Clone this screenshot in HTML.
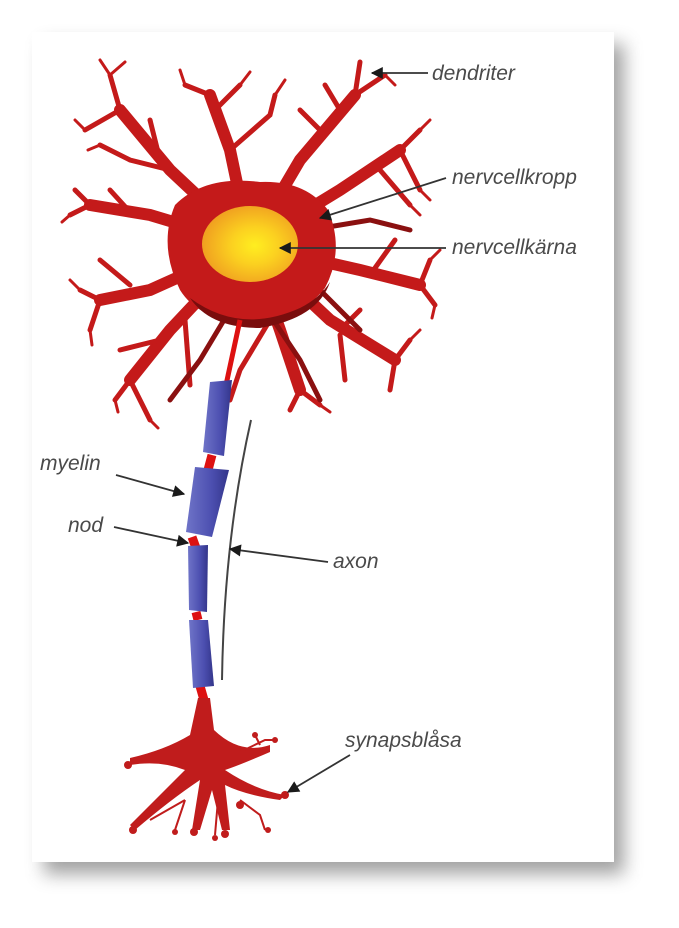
<!DOCTYPE html>
<html><head><meta charset="utf-8"><style>
html,body{margin:0;padding:0;background:#fff;}
svg{display:block}
text{font-family:"Liberation Sans",sans-serif;font-style:italic;fill:#4a4a4a;font-size:21px}
</style></head><body>
<svg width="679" height="928" viewBox="0 0 679 928" xmlns="http://www.w3.org/2000/svg">
<defs>
<filter id="sh" x="-10%" y="-10%" width="125%" height="125%"><feGaussianBlur stdDeviation="9"/></filter>
<radialGradient id="nuc" cx="0.55" cy="0.52" r="0.55"><stop offset="0" stop-color="#ffee20"/><stop offset="0.45" stop-color="#fbd020"/><stop offset="1" stop-color="#f0a020"/></radialGradient>
<linearGradient id="my" x1="0" x2="1"><stop offset="0" stop-color="#6f74c8"/><stop offset="0.6" stop-color="#4c4fb0"/><stop offset="1" stop-color="#33358a"/></linearGradient>
<marker id="ar" viewBox="0 0 10 10" refX="9" refY="5" markerWidth="16" markerHeight="12" orient="auto" markerUnits="userSpaceOnUse"><path d="M0,0 L10,5 L0,10 Z" fill="#1a1a1a"/></marker>
</defs>
<rect x="44" y="44" width="580" height="830" fill="#555" opacity="0.55" filter="url(#sh)"/>
<rect x="32" y="32" width="582" height="830" fill="#fff"/>

<!-- dendrites -->
<g stroke="#c41a1a" stroke-linecap="round" fill="none">
<g stroke-width="12">
<path d="M250,245 L170,170 L120,110"/><path d="M250,245 L230,150 L210,95"/>
<path d="M250,245 L300,160 L355,95"/><path d="M250,245 L340,190 L400,150"/>
<path d="M250,245 L360,270 L420,285"/><path d="M250,245 L330,320 L395,360"/>
<path d="M250,245 L150,215 L90,205"/><path d="M250,245 L150,290 L100,300"/>
<path d="M250,245 L170,330 L130,380"/><path d="M250,245 L280,330 L300,390"/>
</g>
<g stroke-width="5">
<path d="M120,110 L110,75"/><path d="M120,110 L85,130"/><path d="M170,170 L130,160 L100,145"/><path d="M160,160 L150,120"/>
<path d="M210,95 L185,85"/><path d="M215,110 L240,85"/><path d="M230,150 L270,115 L275,95"/>
<path d="M355,95 L360,62"/><path d="M355,95 L385,75"/><path d="M320,130 L300,110"/><path d="M340,110 L325,85"/>
<path d="M400,150 L420,130"/><path d="M400,150 L420,190"/><path d="M380,170 L410,205"/>
<path d="M420,285 L430,260"/><path d="M420,285 L435,305"/><path d="M370,275 L395,240"/>
<path d="M395,360 L410,340"/><path d="M395,360 L390,390"/><path d="M340,330 L360,310"/><path d="M340,335 L345,380"/>
<path d="M90,205 L75,190"/><path d="M90,205 L70,215"/><path d="M130,212 L110,190"/>
<path d="M100,300 L80,290"/><path d="M100,300 L90,330"/><path d="M130,285 L100,260"/>
<path d="M130,380 L115,400"/><path d="M130,380 L150,420"/><path d="M160,340 L120,350"/>
<path d="M300,390 L290,410"/><path d="M300,390 L320,405"/><path d="M270,320 L240,370 L230,400"/>
<path d="M185,320 L190,385"/>
</g>
<g stroke-width="3">
<path d="M110,75 L100,60"/><path d="M110,75 L125,62"/><path d="M85,130 L75,120"/><path d="M100,145 L88,150"/>
<path d="M275,95 L285,80"/><path d="M240,85 L250,72"/><path d="M185,85 L180,70"/>
<path d="M385,75 L395,85"/><path d="M420,130 L430,120"/><path d="M420,190 L430,200"/><path d="M410,205 L420,215"/>
<path d="M430,260 L440,250"/><path d="M435,305 L432,318"/><path d="M410,340 L420,330"/>
<path d="M70,215 L62,222"/><path d="M80,290 L70,280"/><path d="M90,330 L92,345"/>
<path d="M115,400 L118,412"/><path d="M150,420 L158,428"/><path d="M320,405 L330,412"/>
</g>
</g>
<g stroke="#8a1010" stroke-width="5" stroke-linecap="round" fill="none">
<path d="M260,300 L300,360 L320,400"/><path d="M230,310 L200,360 L170,400"/><path d="M300,270 L360,330"/>
<path d="M310,230 L370,220 L410,230"/>
</g>
<!-- body -->
<path d="M175,205 Q205,175 260,182 Q305,180 328,210 Q345,250 325,288 Q298,322 250,320 Q200,322 180,290 Q158,245 175,205 Z" fill="#c41a1a"/>
<path d="M190,298 Q240,335 300,308 Q320,298 330,282 Q318,318 260,328 Q210,328 190,298Z" fill="#7a0d0d"/>
<ellipse cx="250" cy="244" rx="48" ry="38" fill="url(#nuc)"/>

<!-- axon -->
<path d="M240,320 L226,385" stroke="#d11" stroke-width="5"/>
<path d="M212,455 L208,470 M192,537 L196,548 M196,612 L198,620 M200,686 L204,700" stroke="#d11" stroke-width="9"/>
<polygon points="210,382 232,380 224,456 203,452" fill="url(#my)"/>
<polygon points="195,467 229,470 212,537 186,532" fill="url(#my)"/>
<polygon points="188,546 208,545 207,612 189,610" fill="url(#my)"/>
<polygon points="189,620 208,620 214,686 193,688" fill="url(#my)"/>
<path d="M251,420 Q224,540 222,680" stroke="#444" stroke-width="2" fill="none"/>

<!-- terminal -->
<path d="M198,698 L210,698 L214,730 Q240,755 270,745 L270,752 Q240,765 225,770 Q255,790 285,795 L280,800 Q245,795 225,785 L230,830 L222,830 L212,790 L200,830 L192,830 L200,780 Q170,800 135,830 L130,825 Q160,795 185,770 Q160,760 130,765 L130,758 Q165,750 190,735 Z" fill="#c01c1c"/>
<g stroke="#c01c1c" stroke-width="2" fill="none"><path d="M240,752 L265,740 L275,740"/><path d="M260,745 L255,735"/><path d="M240,800 L260,815 L265,830"/><path d="M218,800 L215,835"/><path d="M185,800 L150,820"/><path d="M185,800 L175,830"/></g>
<g fill="#c01c1c"><circle cx="128" cy="765" r="4"/><circle cx="133" cy="830" r="4"/><circle cx="194" cy="832" r="4"/><circle cx="225" cy="834" r="4"/><circle cx="285" cy="795" r="4"/><circle cx="275" cy="740" r="3"/><circle cx="268" cy="830" r="3"/><circle cx="175" cy="832" r="3"/><circle cx="215" cy="838" r="3"/><circle cx="240" cy="805" r="4"/><circle cx="175" cy="790" r="4"/><circle cx="255" cy="735" r="3"/></g>

<!-- arrows -->
<g stroke="#333" stroke-width="1.8" marker-end="url(#ar)" fill="none">
<line x1="428" y1="73" x2="372" y2="73"/>
<line x1="446" y1="178" x2="320" y2="218"/>
<line x1="446" y1="248" x2="280" y2="248"/>
<line x1="116" y1="475" x2="184" y2="494"/>
<line x1="114" y1="527" x2="188" y2="543"/>
<line x1="328" y1="562" x2="230" y2="549"/>
<line x1="350" y1="755" x2="288" y2="792"/>
</g>
<text x="432" y="80">dendriter</text>
<text x="452" y="184">nervcellkropp</text>
<text x="452" y="254">nervcellkärna</text>
<text x="40" y="470">myelin</text>
<text x="68" y="532">nod</text>
<text x="333" y="568">axon</text>
<text x="345" y="747">synapsblåsa</text>
</svg>
</body></html>
